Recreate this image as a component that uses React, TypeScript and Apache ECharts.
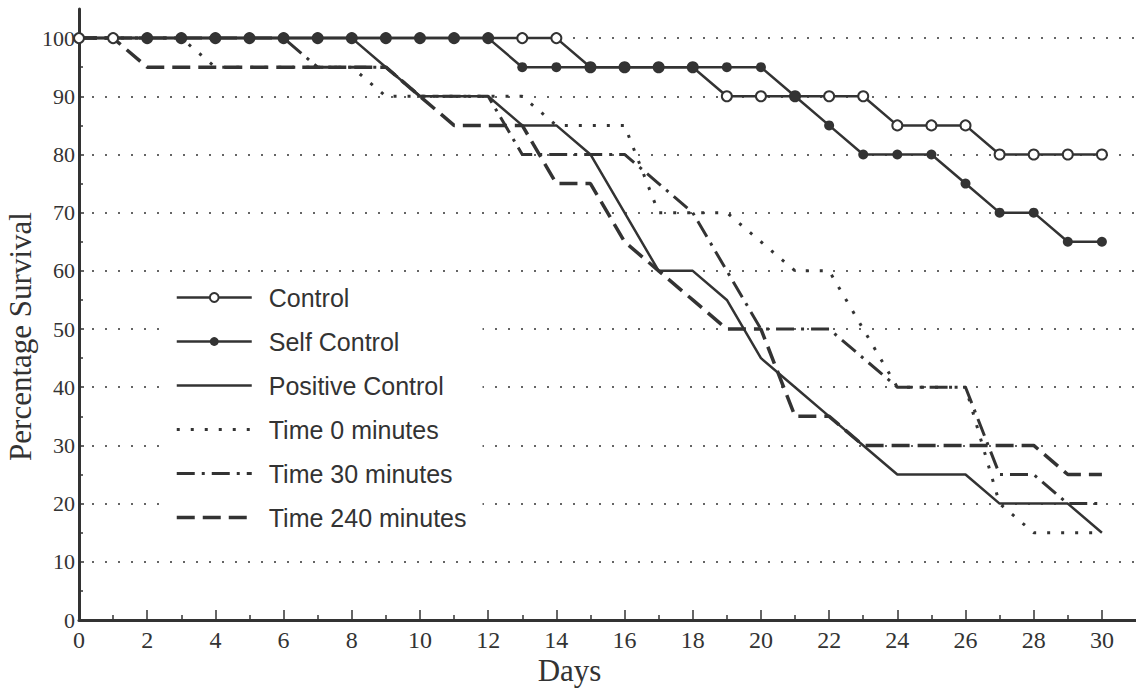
import { useEffect, useRef } from "react";
import * as echarts from "echarts";

const days = [0, 1, 2, 3, 4, 5, 6, 7, 8, 9, 10, 11, 12, 13, 14, 15, 16, 17, 18, 19, 20, 21, 22, 23, 24, 25, 26, 27, 28, 29, 30];
const dayLabels = [0, 2, 4, 6, 8, 10, 12, 14, 16, 18, 20, 22, 24, 26, 28, 30];
const dayMinorTicks = [1, 3, 5, 7, 9, 11, 13, 15, 17, 19, 21, 23, 25, 27, 29];
const percentLabels = [0, 10, 20, 30, 40, 50, 60, 70, 80, 90, 100];
const percentMinorTicks = [5, 15, 25, 35, 45, 55, 65, 75, 85, 95];

const seriesNames = ["Control", "Self Control", "Positive Control", "Time 0 minutes", "Time 30 minutes", "Time 240 minutes"];

const control = [100, 100, 100, 100, 100, 100, 100, 100, 100, 100, 100, 100, 100, 100, 100, 95, 95, 95, 95, 90, 90, 90, 90, 90, 85, 85, 85, 80, 80, 80, 80];
const selfControl = [100, 100, 100, 100, 100, 100, 100, 100, 100, 100, 100, 100, 100, 95, 95, 95, 95, 95, 95, 95, 95, 90, 85, 80, 80, 80, 75, 70, 70, 65, 65];
const positiveControl = [100, 100, 100, 100, 100, 100, 100, 100, 100, 95, 90, 90, 90, 85, 85, 80, 70, 60, 60, 55, 45, 40, 35, 30, 25, 25, 25, 20, 20, 20, 15];
const time0 = [100, 100, 100, 100, 95, 95, 95, 95, 95, 90, 90, 90, 90, 90, 85, 85, 85, 70, 70, 70, 65, 60, 60, 50, 40, 40, 40, 20, 15, 15, 15];
const time30 = [100, 100, 100, 100, 100, 100, 100, 95, 95, 95, 90, 90, 90, 80, 80, 80, 80, 75, 70, 60, 50, 50, 50, 45, 40, 40, 40, 25, 25, 20, 20];
const time240 = [100, 100, 95, 95, 95, 95, 95, 95, 95, 95, 90, 85, 85, 85, 75, 75, 65, 60, 55, 50, 50, 35, 35, 30, 30, 30, 30, 30, 30, 25, 25];
// Self Control markers start on day 2 (days 0-1 show the Control's open circles)
const selfControlFirstMarkerDay = 2;

const INK = "#333333";
const SERIF = "Liberation Serif";
const SANS = "Liberation Sans";

function pairs(values: number[]) {
  return days.map((d, i) => [d, values[i]]);
}

function plainLine(name: string, values: number[], type: any, width: number) {
  return {
    name,
    type: "line",
    data: pairs(values),
    symbol: "circle",
    showSymbol: false,
    itemStyle: { color: "rgba(0,0,0,0)" },
    lineStyle: { color: INK, width, type, cap: "butt" },
    z: 2,
  };
}

export default function App() {
  const ref = useRef<HTMLDivElement>(null);
  useEffect(() => {
    const chart = echarts.init(ref.current!, undefined, { renderer: "svg" });
    const option: any = {
      animation: false,
      backgroundColor: "#ffffff",
      grid: { left: 79, right: 0, top: 9, bottom: 70, containLabel: false, outerBoundsMode: "none" },
      legend: {
        orient: "vertical",
        left: 163,
        top: 275,
        padding: [10, 16, 10, 12],
        backgroundColor: "#ffffff",
        itemWidth: 75,
        itemHeight: 11,
        itemGap: 19,
        selectedMode: false,
        data: seriesNames,
        lineStyle: { width: "inherit" },
        textStyle: { fontFamily: SANS, fontSize: 25, color: INK, padding: [0, 0, 0, 12] },
      },
      xAxis: [
        {
          type: "value",
          min: 0,
          max: 31,
          interval: 1,
          position: "bottom",
          axisLine: { show: true, onZero: false, lineStyle: { color: INK, width: 3 } },
          axisTick: { show: true, inside: true, length: 10, customValues: dayLabels, lineStyle: { color: INK, width: 1.5 } },
          axisLabel: { customValues: dayLabels, fontFamily: SERIF, fontSize: 24, color: INK, margin: 8 },
          splitLine: { show: false },
          name: "Days",
          nameLocation: "middle",
          nameGap: 35,
          nameMoveOverlap: false,
          nameTextStyle: { fontFamily: SERIF, fontSize: 31, color: INK, padding: [0, 76, 0, 0] },
        },
        {
          type: "value",
          min: 0,
          max: 31,
          interval: 1,
          position: "bottom",
          axisLine: { show: false, onZero: false },
          axisTick: { show: true, inside: true, length: 5, customValues: dayMinorTicks, lineStyle: { color: INK, width: 1.5 } },
          axisLabel: { show: false },
          splitLine: { show: false },
        },
      ],
      yAxis: [
        {
          type: "value",
          min: 0,
          max: 105,
          interval: 10,
          position: "left",
          axisLine: { show: true, onZero: false, lineStyle: { color: INK, width: 3 } },
          axisTick: { show: true, inside: true, length: 5, customValues: percentLabels, lineStyle: { color: INK, width: 1.5 } },
          axisLabel: { customValues: percentLabels, fontFamily: SERIF, fontSize: 22, color: INK, margin: 4 },
          splitLine: { show: true, lineStyle: { color: INK, width: 1.5, type: [2, 11] } },
          name: "Percentage Survival",
          nameLocation: "middle",
          nameGap: 43,
          nameMoveOverlap: false,
          nameTextStyle: { fontFamily: SERIF, fontSize: 31, color: INK, padding: [0, 44, 0, 0] },
        },
        {
          type: "value",
          min: 0,
          max: 105,
          interval: 5,
          position: "left",
          axisLine: { show: false, onZero: false },
          axisTick: { show: true, inside: true, length: 4, customValues: percentMinorTicks, lineStyle: { color: INK, width: 1.5 } },
          axisLabel: { show: false },
          splitLine: { show: false },
        },
      ],
      series: [
        {
          name: seriesNames[0],
          type: "line",
          data: pairs(control),
          symbol: "circle",
          symbolSize: 10,
          itemStyle: { color: "#ffffff", borderColor: INK, borderWidth: 2 },
          lineStyle: { color: INK, width: 2.5 },
          z: 3,
        },
        {
          name: seriesNames[1],
          type: "line",
          data: days.map((d, i) =>
            d < selfControlFirstMarkerDay ? { value: [d, selfControl[i]], symbol: "none" } : { value: [d, selfControl[i]] }
          ),
          symbol: "circle",
          symbolSize: 10,
          itemStyle: { color: INK },
          lineStyle: { color: INK, width: 2.5 },
          z: 3,
        },
        plainLine(seriesNames[2], positiveControl, "solid", 2.5),
        plainLine(seriesNames[3], time0, [3, 11], 3),
        plainLine(seriesNames[4], time30, [18, 7, 3, 7], 3),
        plainLine(seriesNames[5], time240, [18, 8], 3.5),
      ],
    };
    chart.setOption(option);
    return () => chart.dispose();
  }, []);
  return (
    <div
      ref={ref}
      style={{ position: "absolute", left: 0, top: 0, width: 1136, height: 690, background: "#ffffff" }}
    />
  );
}
